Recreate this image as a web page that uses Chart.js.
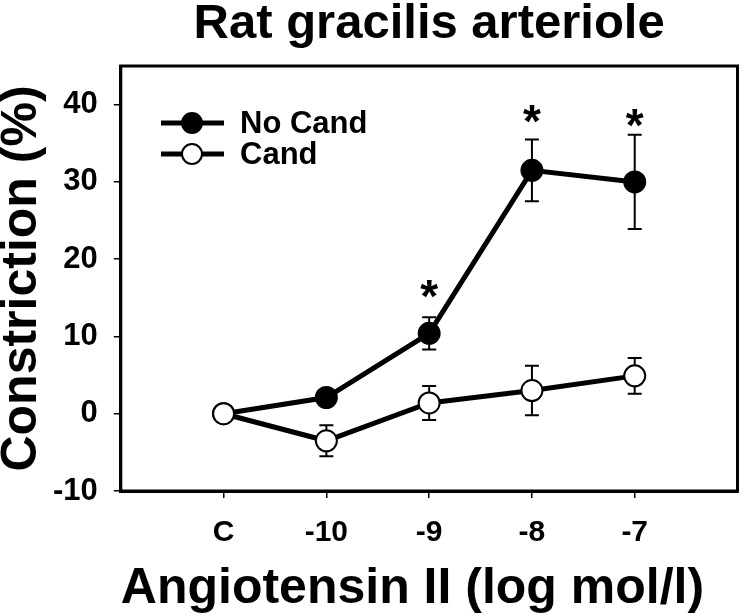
<!DOCTYPE html>
<html>
<head>
<meta charset="utf-8">
<script src="https://cdn.jsdelivr.net/npm/chart.js@4/dist/chart.umd.min.js"></script>
<style>
  html, body { margin: 0; padding: 0; background: #fff; }
</style>
</head>
<body>
<canvas id="chart" width="750" height="616"></canvas>
<script>
const categories = ['C', '-10', '-9', '-8', '-7'];
const noCand = [0, 2.1, 10.4, 31.5, 30.0];
const noCandErr = [0, 0.8, 2.1, 4.0, 6.1];
const cand = [0, -3.5, 1.4, 3.0, 4.9];
const candErr = [0, 2.0, 2.2, 3.2, 2.3];
const starX = [2, 3, 4];
const starY = [16.6, 39.3, 38.8];

const FONT = '"Liberation Sans", Arial, Helvetica, sans-serif';

// cadre autour de la zone du graphique
const framePlugin = {
  id: 'frame',
  beforeDatasetsDraw(chart) {
    const { ctx, chartArea: a } = chart;
    ctx.save();
    ctx.strokeStyle = '#000';
    ctx.lineWidth = 3;
    ctx.strokeRect(a.left, a.top, a.right - a.left, a.bottom - a.top);
    ctx.restore();
  }
};

// barres d'erreur (sous les points)
const errorBarPlugin = {
  id: 'errorBars',
  beforeDatasetsDraw(chart) {
    const { ctx, scales: { x, y } } = chart;
    ctx.save();
    ctx.strokeStyle = '#000';
    ctx.lineWidth = 2;
    chart.data.datasets.forEach(ds => {
      ds.data.forEach((p, i) => {
        const e = ds.errors[i];
        if (!e) return;
        const px = x.getPixelForValue(p.x);
        const top = y.getPixelForValue(p.y + e);
        const bot = y.getPixelForValue(p.y - e);
        ctx.beginPath();
        ctx.moveTo(px, top); ctx.lineTo(px, bot);
        ctx.moveTo(px - 7, top); ctx.lineTo(px + 7, top);
        ctx.moveTo(px - 7, bot); ctx.lineTo(px + 7, bot);
        ctx.stroke();
      });
    });
    ctx.restore();
  }
};

// astérisques de significativité
const starPlugin = {
  id: 'stars',
  afterDatasetsDraw(chart) {
    const { ctx, scales: { x, y } } = chart;
    const size = 46;
    ctx.save();
    ctx.fillStyle = '#000';
    ctx.font = 'bold ' + size + 'px ' + FONT;
    ctx.textAlign = 'center';
    ctx.textBaseline = 'alphabetic';
    starX.forEach((sx, i) => {
      ctx.fillText('*', x.getPixelForValue(sx), y.getPixelForValue(starY[i]) + size * 0.58);
    });
    ctx.restore();
  }
};

// légende dessinée à la main (ligne + marqueur)
const legendPlugin = {
  id: 'customLegend',
  afterDraw(chart) {
    const { ctx } = chart;
    const rows = [
      { label: 'No Cand', fill: '#000', y: 123 },
      { label: 'Cand', fill: '#fff', y: 154 }
    ];
    ctx.save();
    rows.forEach(r => {
      ctx.strokeStyle = '#000';
      ctx.lineWidth = 5;
      ctx.beginPath();
      ctx.moveTo(161, r.y); ctx.lineTo(224, r.y);
      ctx.stroke();
      ctx.beginPath();
      ctx.arc(192, r.y, 10, 0, Math.PI * 2);
      ctx.fillStyle = r.fill;
      ctx.fill();
      ctx.lineWidth = 2;
      ctx.stroke();
      ctx.fillStyle = '#000';
      ctx.font = 'bold 31px ' + FONT;
      ctx.textAlign = 'left';
      ctx.textBaseline = 'middle';
      ctx.fillText(r.label, 240, r.y + 1);
    });
    ctx.restore();
  }
};

const toPoints = vals => vals.map((v, i) => ({ x: i, y: v }));

new Chart(document.getElementById('chart'), {
  type: 'line',
  data: {
    datasets: [
      {
        label: 'No Cand',
        data: toPoints(noCand),
        errors: noCandErr,
        borderColor: '#000',
        borderWidth: 5,
        pointRadius: 10.5,
        pointBorderWidth: 2,
        pointBackgroundColor: '#000',
        pointBorderColor: '#000',
        order: 1
      },
      {
        label: 'Cand',
        data: toPoints(cand),
        errors: candErr,
        borderColor: '#000',
        borderWidth: 5,
        pointRadius: 10.5,
        pointBorderWidth: 2,
        pointBackgroundColor: '#fff',
        pointBorderColor: '#000',
        order: 0
      }
    ]
  },
  options: {
    responsive: false,
    animation: false,
    devicePixelRatio: 1,
    layout: { padding: { right: 5 } },
    plugins: {
      legend: { display: false },
      tooltip: { enabled: false },
      title: {
        display: true,
        text: 'Rat gracilis arteriole',
        fullSize: false,
        color: '#000',
        font: { family: FONT, size: 49, weight: 'bold', lineHeight: 1 },
        padding: { top: 0, bottom: 17 }
      }
    },
    scales: {
      x: {
        type: 'linear',
        min: -1,
        max: 5,
        afterBuildTicks: axis => { axis.ticks = categories.map((c, i) => ({ value: i })); },
        ticks: {
          callback: v => categories[v],
          color: '#000',
          padding: 17,
          maxRotation: 0,
          font: { family: FONT, size: 30, weight: 'bold' }
        },
        grid: { drawOnChartArea: false, drawTicks: true, tickLength: 7, color: '#000', lineWidth: 1.5 },
        border: { display: true, color: '#000', width: 3 },
        title: {
          display: true,
          text: 'Angiotensin II (log mol/l)',
          align: 'start',
          color: '#000',
          font: { family: FONT, size: 50, weight: 'bold', lineHeight: 1 },
          padding: { top: -4, bottom: 2 }
        }
      },
      y: {
        min: -10,
        max: 45,
        ticks: {
          stepSize: 10,
          includeBounds: false,
          color: '#000',
          padding: 16,
          font: { family: FONT, size: 31, weight: 'bold' }
        },
        grid: { drawOnChartArea: false, drawTicks: true, tickLength: 7, color: '#000', lineWidth: 1.5 },
        border: { display: true, color: '#000', width: 3 },
        title: {
          display: true,
          text: 'Constriction (%)',
          color: '#000',
          font: { family: FONT, size: 50, weight: 'bold', lineHeight: 0.9 },
          padding: { top: 0, bottom: -8 }
        }
      }
    }
  },
  plugins: [framePlugin, errorBarPlugin, starPlugin, legendPlugin]
});
</script>
</body>
</html>
